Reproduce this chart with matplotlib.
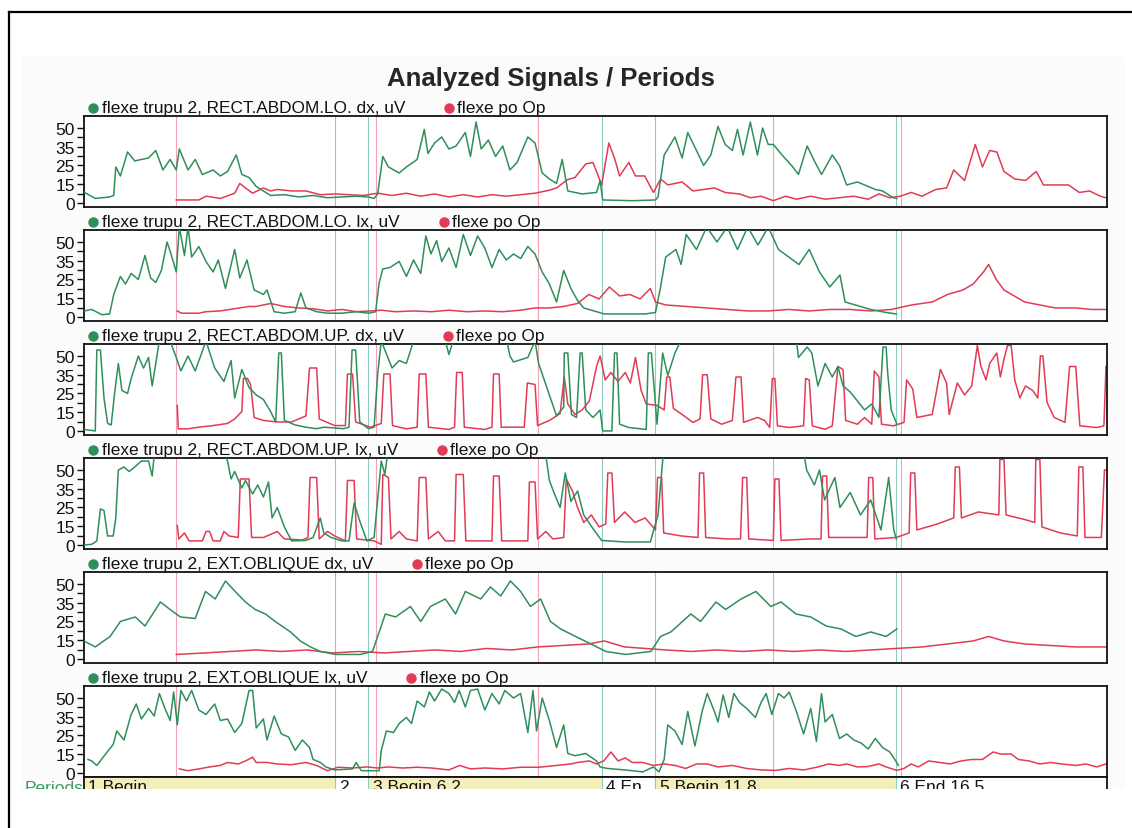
import numpy as np
import matplotlib
matplotlib.use("Agg")
import matplotlib.pyplot as plt
from matplotlib.patches import Rectangle
from matplotlib.lines import Line2D

plt.rcParams['font.family'] = ['Liberation Sans', 'DejaVu Sans']

# ---- data: (time s, uV) ----
lo_dx_green = [(0.66,7),(0.87,3),(1.15,4),(1.23,5),(1.27,24),(1.36,18),(1.50,34),(1.64,28),(1.77,29),(1.91,30),(2.05,35),(2.19,22),(2.33,29),(2.45,22),(2.51,36),(2.68,22),(2.82,29),(2.96,19),(3.17,22),(3.31,18),(3.45,21),(3.62,32),(3.73,19),(3.87,17),(4.01,11),(4.15,8),(4.29,5),(4.56,5.5),(4.84,4),(5.12,5),(5.40,3.5),(5.68,4),(5.96,4.5),(6.20,4),(6.31,3),(6.38,6),(6.48,31),(6.59,24),(6.80,20),(6.94,24),(7.15,29),(7.29,49),(7.36,33),(7.49,40),(7.63,44),(7.77,36),(7.91,38),(8.09,47),(8.19,31),(8.30,54),(8.40,36),(8.54,42),(8.68,31),(8.82,38),(8.96,22),(9.10,27),(9.31,44),(9.45,40),(9.59,20),(9.73,16),(9.87,13),(9.98,29),(10.09,8),(10.37,6),(10.65,7),(10.72,15),(10.77,2),(11.35,1.5),(11.80,2),(11.85,4),(11.97,32),(12.18,44),(12.32,30),(12.43,47),(12.60,35),(12.74,25),(12.88,32),(13.02,51),(13.16,39),(13.30,35),(13.40,49),(13.51,32),(13.65,54),(13.79,32),(13.89,50),(14.00,39),(14.10,39),(14.27,32),(14.48,24),(14.59,19),(14.76,38),(14.90,28),(15.04,19),(15.25,32),(15.39,25),(15.53,12),(15.74,14),(15.95,11),(16.09,9),(16.23,8),(16.44,3.5),(16.51,3)]
lo_dx_red = [(2.45,2),(2.89,2),(3.03,4.5),(3.31,3),(3.59,6.5),(3.69,13),(3.80,10),(3.94,6.5),(4.15,10),(4.29,8),(4.42,9),(4.70,8),(4.98,8),(5.26,5.5),(5.54,6),(5.82,5.5),(6.10,5),(6.38,6.5),(6.66,5),(6.94,6.5),(7.22,4.5),(7.49,6),(7.77,4),(8.05,5.5),(8.33,4),(8.61,5.5),(8.89,4.5),(9.17,5.5),(9.45,6.5),(9.73,8.5),(9.87,10),(10.08,15.5),(10.23,17),(10.44,26),(10.58,27),(10.65,21),(10.75,12),(10.89,40),(11.00,30),(11.10,18),(11.28,27),(11.41,18),(11.59,18),(11.76,7),(11.90,16),(12.04,12),(12.32,14),(12.53,8),(12.74,9),(12.95,10),(13.16,7),(13.44,6),(13.65,3.5),(13.86,4.5),(14.10,1.5),(14.34,4.5),(14.55,2.5),(14.83,4.5),(15.11,2.5),(15.39,3.5),(15.67,4.5),(15.95,2.5),(16.16,6),(16.37,3.5),(16.58,4.5),(16.79,7),(17.00,4.5),(17.27,9),(17.48,10),(17.62,22),(17.83,15),(18.04,39),(18.18,24),(18.32,35),(18.46,34),(18.60,21),(18.81,16),(19.02,15),(19.23,21),(19.37,12),(19.58,12),(19.86,12),(20.07,7),(20.27,8),(20.48,4.5),(20.59,3.5)]

lo_lx_green = [(0.66,4),(0.80,5),(1.00,1.5),(1.15,2),(1.23,15),(1.36,27),(1.46,22),(1.57,29),(1.71,25),(1.84,41),(1.95,26),(2.05,23),(2.16,31),(2.27,50),(2.33,44),(2.45,30),(2.51,60),(2.61,41),(2.68,60),(2.75,40),(2.89,47),(3.03,37),(3.17,30),(3.27,38),(3.41,19),(3.59,45),(3.69,26),(3.83,38),(3.97,18),(4.15,15),(4.22,18),(4.36,3.5),(4.56,2.5),(4.77,3.5),(4.88,16),(4.98,6),(5.19,3.5),(5.40,2.5),(5.68,2.5),(5.96,3.5),(6.20,2.5),(6.34,3.5),(6.41,23),(6.48,32),(6.62,33),(6.80,37),(6.94,27),(7.08,38),(7.22,29),(7.32,54),(7.42,42),(7.53,51),(7.63,37),(7.77,46),(7.91,33),(8.05,55),(8.19,41),(8.33,54),(8.47,46),(8.61,33),(8.75,45),(8.89,38),(9.03,42),(9.17,39),(9.31,47),(9.45,42),(9.59,30),(9.73,22),(9.87,10),(10.01,31),(10.15,19),(10.28,11),(10.40,6),(10.60,4),(10.80,2),(11.20,2),(11.60,2),(11.80,3),(11.90,20),(12.00,40),(12.20,45),(12.30,35),(12.40,55),(12.60,45),(12.80,60),(13.00,50),(13.20,60),(13.40,45),(13.60,60),(13.80,48),(14.00,60),(14.20,45),(14.40,40),(14.60,35),(14.80,45),(15.00,30),(15.20,20),(15.40,28),(15.50,10),(15.70,8),(16.00,5),(16.30,3),(16.50,2)]
lo_lx_red = [(2.47,4),(2.55,2.5),(2.89,2.5),(3.03,3.5),(3.31,4),(3.59,5.5),(3.87,7),(4.01,7),(4.29,9),(4.56,7),(4.84,6),(5.12,5.5),(5.40,4),(5.68,5),(5.96,3.5),(6.24,4),(6.45,4.5),(6.73,3.5),(7.08,4),(7.43,3.5),(7.77,4.5),(8.12,3.5),(8.47,4),(8.82,3.5),(9.17,4.5),(9.45,6),(9.73,6),(10.01,7),(10.28,9),(10.50,15),(10.70,12),(10.90,20),(11.10,14),(11.30,15),(11.50,12),(11.70,19),(11.80,10),(12.00,8),(12.40,7),(12.80,6),(13.20,5),(13.60,4),(14.00,4),(14.40,5),(14.80,4),(15.20,5),(15.60,5),(16.00,4),(16.40,5),(16.80,8),(17.20,10),(17.50,15),(17.80,18),(18.00,22),(18.20,30),(18.30,35),(18.45,25),(18.60,18),(18.80,14),(19.00,10),(19.30,8),(19.60,6),(20.00,6),(20.30,5),(20.60,5)]

up_dx_green = [(0.66,1),(0.87,0),(0.90,54),(0.97,54),(1.04,22),(1.11,5),(1.18,4),(1.25,26),(1.32,45),(1.39,27),(1.50,25),(1.57,35),(1.71,50),(1.81,42),(1.91,49),(1.98,30),(2.12,60),(2.33,60),(2.45,49),(2.54,40),(2.68,50),(2.82,40),(3.03,60),(3.20,42),(3.38,33),(3.52,47),(3.59,22),(3.73,41),(3.87,29),(4.01,24),(4.15,21),(4.29,13),(4.39,6),(4.45,52),(4.50,52),(4.56,7),(4.77,4),(4.98,2.5),(5.19,1.5),(5.33,2.5),(5.54,2),(5.71,1.5),(5.82,2.5),(5.88,54),(5.95,54),(6.03,6),(6.20,1.5),(6.31,2.5),(6.38,38),(6.45,60),(6.66,42),(6.80,47),(6.94,45),(7.08,60),(7.70,60),(7.77,51),(7.85,60),(8.90,60),(8.96,50),(9.03,46),(9.31,49),(9.45,60),(9.52,45),(9.73,24),(9.87,10),(10.01,16),(10.02,52),(10.09,52),(10.16,11),(10.26,9),(10.33,52),(10.37,52),(10.44,14),(10.58,9),(10.72,14),(10.77,0),(10.95,0),(11.00,52),(11.05,52),(11.10,4.5),(11.28,2.3),(11.62,1),(11.66,52),(11.72,52),(11.83,4.5),(11.94,52),(12.04,37),(12.18,52),(12.29,60),(14.55,60),(14.59,49),(14.76,56),(14.85,52),(14.97,30),(15.11,45),(15.25,36),(15.36,43),(15.46,30),(15.60,26),(15.74,20),(15.88,14),(16.02,18),(16.16,9),(16.24,56),(16.30,56),(16.33,39),(16.40,14),(16.51,4.5)]
up_dx_red = [(2.47,17),(2.49,1.4),(2.68,1.4),(2.89,2.5),(3.17,3.6),(3.45,5),(3.59,8),(3.73,13),(3.76,35),(3.84,35),(3.90,31),(3.97,9),(4.15,7),(4.42,6),(4.70,6),(4.98,10),(5.05,42),(5.19,42),(5.24,8),(5.54,3.6),(5.75,3.6),(5.79,38),(5.89,38),(5.95,6),(6.24,2.5),(6.45,5),(6.50,38),(6.62,38),(6.67,3.6),(6.94,1.4),(7.15,2.5),(7.19,38),(7.32,38),(7.37,2.5),(7.77,1),(7.88,2.5),(7.92,39),(8.03,39),(8.07,2.5),(8.47,1),(8.61,2.5),(8.64,38),(8.75,38),(8.79,2.5),(9.24,2.5),(9.30,32),(9.45,31),(9.50,3.6),(9.73,7),(9.94,11.6),(10.02,36),(10.09,18),(10.23,11),(10.37,14),(10.51,20),(10.65,43),(10.72,50),(10.82,34),(10.93,39),(11.07,33),(11.21,39),(11.31,32),(11.41,49),(11.52,27),(11.62,18),(11.83,17),(11.97,14),(12.02,36),(12.08,36),(12.15,15),(12.32,11),(12.53,5.7),(12.67,8),(12.72,37.5),(12.81,37.5),(12.88,8),(13.09,4.5),(13.30,7),(13.37,36),(13.47,36),(13.52,5.7),(13.79,9),(13.93,7),(14.03,2.3),(14.08,35),(14.13,35),(14.18,3.4),(14.41,2.3),(14.69,3.4),(14.73,35),(14.80,34),(14.86,3.4),(15.11,1.1),(15.25,3.4),(15.36,43),(15.46,41),(15.51,7),(15.74,4.5),(15.88,9),(16.02,4.5),(16.07,40),(16.16,36),(16.21,4.5),(16.44,3.4),(16.65,5.7),(16.70,34),(16.82,28),(16.90,9),(17.20,11),(17.36,41),(17.48,32),(17.53,11),(17.69,32),(17.83,24),(17.97,30),(18.08,57),(18.15,43),(18.25,34),(18.32,45),(18.46,52),(18.53,36),(18.60,48),(18.67,57),(18.74,57),(18.81,34),(18.91,22),(19.02,30),(19.16,27),(19.26,22),(19.31,50),(19.36,50),(19.44,19),(19.58,9),(19.79,5.7),(19.88,43),(20.00,43),(20.08,3.4),(20.41,2.3),(20.55,3.4),(20.59,43)]

up_lx_green = [(0.66,0),(0.80,0.4),(0.90,2.7),(0.97,24),(1.04,23),(1.11,6),(1.22,6),(1.27,18),(1.32,50),(1.43,52),(1.53,49),(1.64,52),(1.77,56),(1.91,56),(1.98,46),(2.02,60),(3.40,60),(3.45,56),(3.52,44),(3.59,49),(3.73,38),(3.80,43),(3.94,34),(4.04,40),(4.15,32),(4.25,42),(4.32,18),(4.42,25),(4.56,12),(4.70,2.7),(4.98,3),(5.12,5),(5.26,18),(5.33,8),(5.47,5),(5.68,2.7),(5.82,2.7),(5.92,28),(6.03,16),(6.17,2.7),(6.31,5),(6.45,56),(6.52,47),(6.57,60),(9.66,60),(9.73,43),(9.83,34),(9.94,25),(10.04,48),(10.15,29),(10.28,36),(10.40,20),(10.60,10),(10.75,3),(11.20,2),(11.70,2),(11.85,20),(11.95,60),(14.70,60),(14.75,50),(14.90,40),(15.00,50),(15.10,30),(15.30,45),(15.40,25),(15.60,35),(15.80,20),(16.00,30),(16.20,10),(16.35,45),(16.45,10),(16.50,4)]
up_lx_red = [(2.47,13),(2.50,4),(2.61,8),(2.70,2.7),(2.96,2.7),(3.03,9),(3.10,9),(3.17,2.7),(3.31,2.7),(3.38,9),(3.48,6),(3.66,5),(3.70,44),(3.87,44),(3.92,5),(4.15,5),(4.29,7),(4.42,9),(4.56,4),(4.91,3.3),(5.02,5),(5.06,45),(5.19,45),(5.24,4),(5.40,9),(5.54,6),(5.75,2.7),(5.79,43),(5.92,43),(5.97,4),(6.31,2.7),(6.45,0.4),(6.48,47),(6.59,45),(6.64,4),(6.80,9),(6.94,4),(7.15,2.7),(7.19,45),(7.32,45),(7.37,4),(7.56,9),(7.70,2.7),(7.88,2.7),(7.91,47),(8.05,47),(8.10,2.7),(8.61,2.7),(8.64,46),(8.75,46),(8.80,2.7),(9.31,2.7),(9.34,42),(9.45,42),(9.50,4),(9.66,9),(9.80,4),(10.01,5),(10.06,44),(10.18,36),(10.28,25),(10.40,15),(10.55,20),(10.70,12),(10.83,14),(10.87,48),(10.95,48),(11.00,15),(11.20,22),(11.40,15),(11.60,18),(11.80,10),(11.84,45),(11.92,45),(11.96,8),(12.30,6),(12.63,5),(12.66,48),(12.74,48),(12.78,5),(13.20,4),(13.46,4),(13.50,45),(13.58,45),(13.62,4),(14.10,3),(14.13,44),(14.21,44),(14.25,3),(14.80,4),(15.03,4),(15.06,46),(15.14,46),(15.18,5),(15.60,5),(15.93,5),(15.96,45),(16.04,45),(16.08,4),(16.50,5),(16.75,8),(16.78,48),(16.86,48),(16.90,10),(17.30,14),(17.62,18),(17.65,52),(17.73,52),(17.77,18),(18.10,22),(18.50,20),(18.52,57),(18.60,57),(18.64,20),(19.00,17),(19.20,15),(19.22,57),(19.30,57),(19.34,12),(19.70,8),(20.03,6),(20.06,52),(20.14,52),(20.18,5),(20.50,5),(20.56,50),(20.61,50)]

obl_dx_green = [(0.65,12),(0.87,8),(1.16,15),(1.36,25),(1.65,28),(1.84,22),(2.14,38),(2.33,33),(2.53,28),(2.82,27),(3.02,45),(3.21,40),(3.41,52),(3.60,45),(3.80,38),(3.99,33),(4.19,30),(4.38,25),(4.68,18),(4.87,12),(5.07,8),(5.26,5),(5.56,3),(6.04,3),(6.28,5),(6.53,30),(6.73,28),(7.02,35),(7.22,25),(7.41,35),(7.70,40),(7.90,30),(8.09,45),(8.39,40),(8.58,48),(8.78,42),(8.97,52),(9.17,45),(9.36,35),(9.56,40),(9.75,25),(9.95,20),(10.24,15),(10.54,10),(10.83,5),(11.22,3),(11.71,5),(11.90,15),(12.10,18),(12.49,30),(12.68,25),(12.98,38),(13.17,33),(13.47,40),(13.76,45),(14.05,35),(14.25,38),(14.54,30),(14.83,28),(15.13,22),(15.42,20),(15.71,15),(16.00,18),(16.30,15),(16.51,20)]
obl_dx_red = [(2.45,3),(3.0,4),(3.5,5),(4.0,6),(4.5,5),(5.0,6),(5.5,4),(6.0,5),(6.5,4),(7.0,5),(7.5,6),(8.0,5),(8.5,7),(9.0,6),(9.5,8),(10.0,9),(10.5,10),(10.8,12),(11.2,8),(11.6,7),(12.0,6),(12.5,5),(13.0,6),(13.5,5),(14.0,6),(14.5,5),(15.0,6),(15.5,5),(16.0,6),(16.5,7),(17.0,8),(17.5,10),(18.0,12),(18.3,15),(18.6,12),(19.0,10),(19.5,9),(20.0,8),(20.6,8)]

obl_lx_green = [(0.73,9),(0.80,8),(0.90,5),(1.08,13),(1.22,19),(1.29,28),(1.43,22),(1.57,39),(1.67,46),(1.77,36),(1.91,43),(2.02,38),(2.12,53),(2.23,43),(2.33,35),(2.40,54),(2.47,32),(2.54,55),(2.65,48),(2.75,55),(2.89,42),(3.03,39),(3.20,46),(3.31,35),(3.45,36),(3.59,27),(3.73,33),(3.87,55),(3.94,55),(4.01,30),(4.15,36),(4.22,22),(4.36,38),(4.50,26),(4.64,24),(4.77,15),(4.91,22),(5.05,17),(5.12,9),(5.26,7),(5.37,4),(5.54,2),(5.89,2.7),(5.96,7),(6.06,1.5),(6.41,1.5),(6.45,15),(6.55,28),(6.69,27),(6.80,33),(6.94,37),(7.04,33),(7.15,48),(7.29,44),(7.39,54),(7.49,48),(7.63,56),(7.77,53),(7.88,47),(7.97,55),(8.09,44),(8.19,55),(8.33,56),(8.47,42),(8.61,53),(8.75,46),(8.86,55),(9.03,50),(9.17,53),(9.31,27),(9.41,55),(9.48,28),(9.59,50),(9.73,35),(9.87,17),(10.01,32),(10.09,13),(10.23,11.5),(10.44,13),(10.65,8),(10.72,4),(10.86,3),(11.21,2),(11.55,0.7),(11.76,4),(11.87,0.7),(11.97,9),(12.04,32),(12.18,28),(12.32,19),(12.43,41),(12.57,18),(12.71,41),(12.81,53),(12.95,41),(13.02,34),(13.12,52),(13.23,37),(13.33,53),(13.44,47),(13.58,43),(13.75,37),(13.86,47),(13.96,53),(14.07,39),(14.20,53),(14.31,50),(14.41,54),(14.55,41),(14.69,26),(14.83,43),(14.94,21),(15.04,53),(15.11,34),(15.25,39),(15.39,23),(15.53,26),(15.67,22),(15.81,20),(15.95,16),(16.09,23),(16.23,17),(16.37,14),(16.47,9),(16.54,5)]
obl_lx_red = [(2.51,2.7),(2.68,1.5),(2.89,2.7),(3.10,4),(3.31,5),(3.45,7),(3.66,6),(3.80,8),(3.94,10.5),(4.01,7),(4.22,7),(4.42,6),(4.70,5.5),(4.98,7),(5.19,5),(5.40,1.5),(5.61,3.8),(5.89,3.3),(6.17,4),(6.38,3.3),(6.59,4),(6.87,3.3),(7.15,3.8),(7.43,3.3),(7.77,2),(7.98,5),(8.19,2.7),(8.47,3.3),(8.82,2.7),(9.17,3.8),(9.52,3.8),(9.87,5),(10.15,6),(10.28,7),(10.51,8),(10.65,6),(10.79,8),(10.93,14),(11.07,8),(11.21,10),(11.35,7),(11.55,7),(11.76,5),(11.97,6),(12.18,5),(12.39,3),(12.60,6),(12.81,6),(13.02,4),(13.30,5),(13.58,3),(13.86,2),(14.14,1.7),(14.41,3),(14.69,2),(14.97,4),(15.18,6),(15.39,5),(15.53,6),(15.74,4),(15.95,4.3),(16.16,6),(16.30,4),(16.51,1.7),(16.65,3),(16.79,6),(16.93,4),(17.13,8),(17.34,7),(17.55,6),(17.76,8),(17.97,9),(18.18,9),(18.39,14),(18.53,12.6),(18.74,12.6),(18.88,9),(19.09,8),(19.30,6),(19.51,7),(19.72,6),(20.00,5),(20.20,6),(20.41,4),(20.59,6)]

green_labels = ["flexe trupu 2, RECT.ABDOM.LO. dx, uV", "flexe trupu 2, RECT.ABDOM.LO. lx, uV",
                "flexe trupu 2, RECT.ABDOM.UP. dx, uV", "flexe trupu 2, RECT.ABDOM.UP. lx, uV",
                "flexe trupu 2, EXT.OBLIQUE dx, uV", "flexe trupu 2, EXT.OBLIQUE lx, uV"]
red_label = "flexe po Op"

# period marks (s)
green_periods = [5.54, 6.20, 10.75, 11.80, 16.50]
red_periods = [2.45, 6.34, 9.50, 14.10, 16.60]
period_names = ["1 Begin", "2", "3 Begin 6.2", "4 En", "5 Begin 11.8", "6 End 16.5"]
period_starts = [0.65, 5.54, 6.20, 10.75, 11.80, 16.50]

ytick_vals = [0, 12.5, 25, 37.5, 50]
ytick_text = ["0", "15", "25", "35", "50"]

panels = [(green_labels[0], lo_dx_green, lo_dx_red), (green_labels[1], lo_lx_green, lo_lx_red),
          (green_labels[2], up_dx_green, up_dx_red), (green_labels[3], up_lx_green, up_lx_red),
          (green_labels[4], obl_dx_green, obl_dx_red), (green_labels[5], obl_lx_green, obl_lx_red)]

GREEN = "#2f8f5b"
RED = "#e23b55"
W, H = 1132, 829
XMIN, XMAX = 0.65, 20.61

fig = plt.figure(figsize=(W / 100, H / 100), dpi=100)
fig.patch.set_facecolor("white")

def fx(px):
    return px / W

def fy(py):
    return 1 - py / H

# faint scan background
fig.add_artist(Rectangle((fx(22), fy(790)), fx(1125) - fx(22), 732 / H, transform=fig.transFigure,
                         facecolor="#fbfbfb", edgecolor="none", zorder=-5))

fig.text(fx(551), fy(79), "Analyzed Signals / Periods", ha="center", va="center",
         fontsize=18.5, fontweight="bold", color="#262626")

L, R = 84, 1107
renderer = fig.canvas.get_renderer()

for i, (lab, g, r) in enumerate(panels):
    top = 117 + 114 * i
    ax = fig.add_axes([fx(L), fy(top + 91), fx(R) - fx(L), 91 / H])
    for t in red_periods:
        ax.axvline(t, color="#f4a3b6", lw=0.8, zorder=1)
    for t in green_periods:
        ax.axvline(t, color="#92cbbf", lw=0.8, zorder=1)
    ga = np.array(g).T
    ra = np.array(r).T
    ax.plot(ga[0], ga[1], color=GREEN, lw=1.1, zorder=3)
    ax.plot(ra[0], ra[1], color=RED, lw=1.1, zorder=2)
    ax.set_xlim(XMIN, XMAX)
    ax.set_ylim(-2.7, 58)
    ax.set_xticks([])
    ax.set_yticks(ytick_vals)
    ax.set_yticklabels(ytick_text)
    ax.set_yticks([6.25, 18.75, 31.25, 43.75], minor=True)
    ax.tick_params(axis="y", which="both", direction="out", length=5, width=1,
                   labelsize=12.5, pad=1.5, colors="#111111")
    for s in ax.spines.values():
        s.set_linewidth(1.3)
        s.set_color("#111111")

    # legend row above the panel
    ly = top - 8
    fig.add_artist(Line2D([fx(93)], [fy(ly)], marker="o", markersize=6.5, color=GREEN,
                          transform=fig.transFigure))
    gt = fig.text(fx(102), fy(ly), lab, ha="left", va="center", fontsize=12.4, color="#111111")
    x_end = gt.get_window_extent(renderer).x1
    rx = x_end + 44
    fig.add_artist(Line2D([rx / W], [fy(ly)], marker="o", markersize=6.5, color=RED,
                          transform=fig.transFigure))
    fig.text((rx + 8) / W, fy(ly), red_label, ha="left", va="center", fontsize=12.4, color="#111111")

# periods bar
pax = fig.add_axes([fx(L), fy(800), fx(R) - fx(L), 22 / H])
pax.set_xlim(XMIN, XMAX)
pax.set_ylim(0, 1)
pax.set_xticks([])
pax.set_yticks([])
for k, (name, t0) in enumerate(zip(period_names, period_starts)):
    t1 = period_starts[k + 1] if k + 1 < len(period_starts) else XMAX
    if k % 2 == 0 and k < 5:
        pax.axvspan(t0, t1, color="#f3eebc", lw=0)
    pax.text(t0 + 0.08, 0.93, name, ha="left", va="top", fontsize=12.5, color="#111111", clip_on=True)
for t in green_periods:
    pax.axvline(t, color="#92cbbf", lw=0.8)
for s in pax.spines.values():
    s.set_linewidth(1.3)
    s.set_color("#111111")
fig.text(fx(25), fy(781), "Periods", ha="left", va="top", fontsize=12.5, color="#3a9a6a")

# the scan is cut off at the bottom
fig.add_artist(Rectangle((0, 0), 1, 39 / H, transform=fig.transFigure, facecolor="white",
                         edgecolor="none", zorder=50))
fig.add_artist(Line2D([fx(9), fx(9)], [0, fy(13)], color="black", lw=1.6, transform=fig.transFigure, zorder=60))
fig.add_artist(Line2D([fx(9), 1], [fy(13), fy(13)], color="black", lw=1.6, transform=fig.transFigure, zorder=60))

fig.savefig("out.png", dpi=100)
